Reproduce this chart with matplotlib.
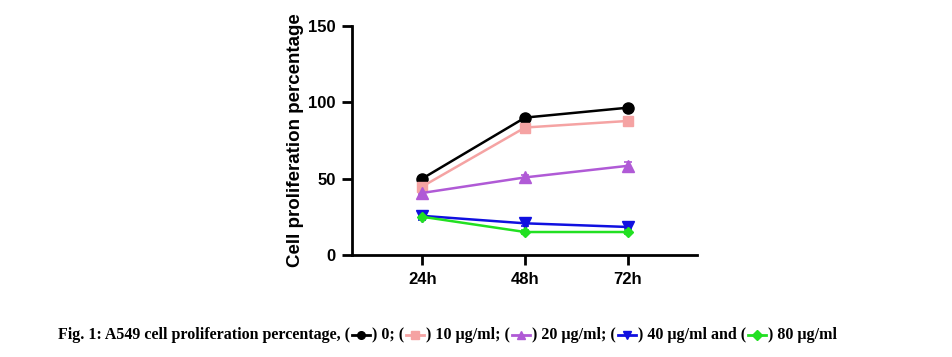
import numpy as np
import matplotlib.pyplot as plt
from matplotlib.lines import Line2D

times = ["24h", "48h", "72h"]
labels = ["0", "10 µg/ml", "20 µg/ml", "40 µg/ml", "80 µg/ml"]
means = [
    [50.0, 90.0, 96.5],
    [44.8, 83.5, 87.8],
    [40.6, 50.8, 58.4],
    [25.6, 20.7, 18.3],
    [25.0, 15.0, 15.0],
]
errs = [
    [1.0, 1.0, 1.0],
    [1.5, 3.0, 1.0],
    [1.0, 1.5, 2.5],
    [3.0, 1.5, 1.5],
    [1.0, 1.0, 1.0],
]
colors = ["#000000", "#f5a3a3", "#b05ad6", "#1010e0", "#22e022"]
markers = ["o", "s", "^", "v", "D"]
msizes = [8, 7.5, 8, 8, 5.5]

fig = plt.figure(figsize=(9.52, 3.57), dpi=100)
ax = fig.add_axes([0.37, 0.286, 0.362, 0.641])
x = np.arange(1, len(times) + 1)
for m, e, c, mk, ms in zip(means, errs, colors, markers, msizes):
    ax.errorbar(x, m, yerr=e, color=c, marker=mk, markersize=ms, lw=1.8,
                capsize=3, elinewidth=1.2, capthick=1.2)

ax.set_xlim(0.32, 3.67)
ax.set_ylim(0, 150)
ax.set_xticks(x)
ax.set_xticklabels(times)
ax.set_yticks([0, 50, 100, 150])
for s in ["top", "right"]:
    ax.spines[s].set_visible(False)
for s in ["left", "bottom"]:
    ax.spines[s].set_linewidth(2)
ax.tick_params(width=2, length=7, labelsize=12, pad=5)
for t in ax.get_xticklabels() + ax.get_yticklabels():
    t.set_fontweight("bold")
    t.set_family("Liberation Sans")
ax.set_ylabel("Cell proliferation percentage", fontsize=13.5, fontweight="bold",
              family="Liberation Sans", labelpad=3)

# caption with inline legend symbols
fig.canvas.draw()
r = fig.canvas.get_renderer()
cap_kw = dict(family="Liberation Serif", fontweight="bold", fontsize=11.5, va="center")
ypix = 357 - 335
xpix = 58
ends = [") 0; (", ") 10 µg/ml; (", ") 20 µg/ml; (", ") 40 µg/ml and (", ") 80 µg/ml"]
segs = ["Fig. 1: A549 cell proliferation percentage, ("]
for i in range(5):
    segs.append(i)
    segs.append(ends[i])
for s in segs:
    if isinstance(s, int):
        w = 22
        line = Line2D([xpix + 2, xpix + w - 2], [ypix, ypix], color=colors[s], lw=2,
                      transform=None)
        mk = Line2D([xpix + w / 2], [ypix], color=colors[s], marker=markers[s],
                    markersize=5.5, transform=None)
        fig.add_artist(line)
        fig.add_artist(mk)
        xpix += w
    else:
        t = fig.text(xpix / 952, ypix / 357, s, **cap_kw)
        xpix += t.get_window_extent(r).width

fig.savefig("out.png", dpi=100)
